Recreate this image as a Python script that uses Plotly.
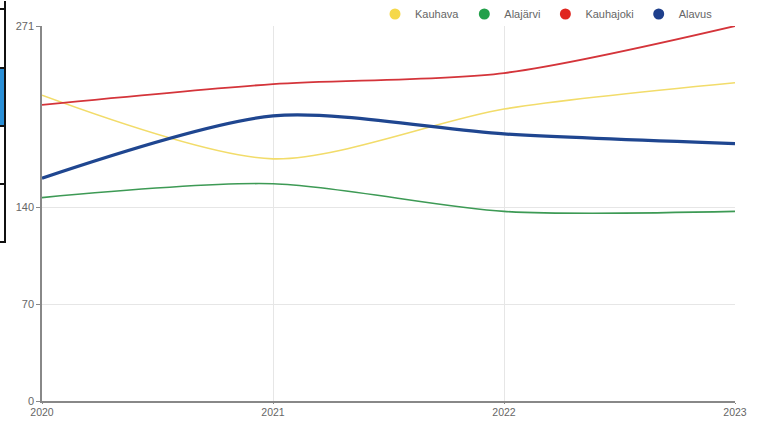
import plotly.graph_objects as go

years = [2020, 2021, 2022, 2023]
series_names = ["Kauhava", "Alajärvi", "Kauhajoki", "Alavus"]
kauhava = [221, 175, 211, 230]
alajarvi = [147, 157, 137, 137]
kauhajoki = [214, 229, 237, 271]
alavus = [161, 206, 193, 186]
y_ticks = [0, 70, 140, 271]

values = [kauhava, alajarvi, kauhajoki, alavus]
line_colors = ["#f2dc6a", "#3d9a55", "#d4343a", "#1f4690"]
marker_colors = ["#f5d84a", "#22a04a", "#e0261f", "#1e3f8c"]
widths = [1.6, 1.6, 1.8, 3.2]

W, H = 765, 421
L, R, T, B = 42, 30, 26, 20

fig = go.Figure()
for name, vals, lc, w in zip(series_names, values, line_colors, widths):
    fig.add_trace(go.Scatter(x=years, y=vals, mode="lines", name=name,
                             line=dict(color=lc, width=w, shape="spline", smoothing=0.8),
                             showlegend=False, hoverinfo="x+y+name"))
for name, mc in zip(series_names, marker_colors):
    fig.add_trace(go.Scatter(x=[None], y=[None], mode="markers", name=name,
                             marker=dict(color=mc, size=11, symbol="circle")))

pw = W - L - R
ph = H - T - B
def px(x):
    return (x - L) / pw
def py(y):
    return 1 - (y - T) / ph

shapes = []
# left clipped UI element
shapes.append(dict(type="rect", xref="paper", yref="paper", x0=px(-2), x1=px(5),
                   y0=py(126), y1=py(68), fillcolor="#2a8fd6", line=dict(width=0), layer="above"))
shapes.append(dict(type="line", xref="paper", yref="paper", x0=px(5), x1=px(5),
                   y0=py(1), y1=py(243), line=dict(color="#111", width=2)))
for yy in [9, 68, 126, 184, 242]:
    shapes.append(dict(type="line", xref="paper", yref="paper", x0=px(-2), x1=px(5.5),
                       y0=py(yy), y1=py(yy), line=dict(color="#111", width=2)))

fig.update_layout(
    width=W, height=H,
    margin=dict(l=L, r=R, t=T, b=B, autoexpand=False),
    paper_bgcolor="white", plot_bgcolor="white",
    font=dict(family="Liberation Sans, Arial, sans-serif", size=11, color="#666"),
    shapes=shapes,
    legend=dict(orientation="h", xref="container", yref="container",
                xanchor="right", x=718 / W, yanchor="middle", y=1 - 14 / H,
                font=dict(size=11, color="#666"), itemwidth=30, bgcolor="rgba(0,0,0,0)",
                tracegroupgap=0),
    xaxis=dict(range=[2020, 2023], tickvals=years, ticktext=[str(y) for y in years],
               showgrid=True, gridcolor="#e6e6e6", gridwidth=1,
               showline=True, linecolor="#888", linewidth=1.5,
               ticks="outside", ticklen=1, tickcolor="#888",
               tickfont=dict(size=10.5),
               zeroline=False, fixedrange=True, automargin=False),
    yaxis=dict(range=[0, 271], tickvals=y_ticks, ticktext=[str(t) for t in y_ticks],
               showgrid=True, gridcolor="#e6e6e6", gridwidth=1,
               showline=True, linecolor="#888", linewidth=1.5,
               ticks="outside", ticklen=4, tickcolor="#888",
               zeroline=False, fixedrange=True, automargin=False),
)
fig.write_html("out.html", config={"displayModeBar": False},
               post_script="document.body.style.margin='0';document.body.style.overflow='hidden';")
